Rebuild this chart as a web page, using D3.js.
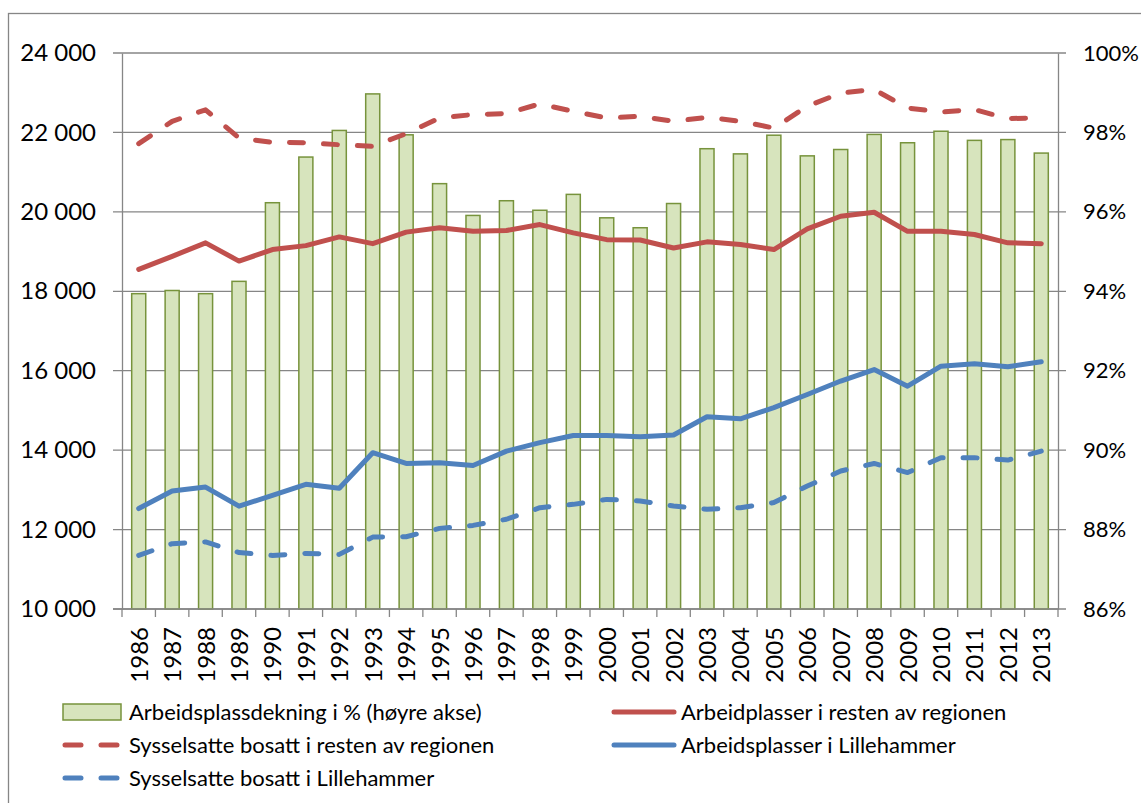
<!DOCTYPE html>
<html>
<head>
<meta charset="utf-8">
<script src="https://cdn.jsdelivr.net/npm/d3@7"></script>
<style>
  body { margin: 0; background: #fff; }
  svg text { font-family: Lato, "Open Sans", sans-serif; fill: #000; }
</style>
</head>
<body>
<div id="chart"></div>
<script>
var years = ["1986","1987","1988","1989","1990","1991","1992","1993","1994","1995","1996","1997","1998","1999",
  "2000","2001","2002","2003","2004","2005","2006","2007","2008","2009","2010","2011","2012","2013"];

// Arbeidsplassdekning i % (right axis)
var dekning = [93.94, 94.02, 93.94, 94.25, 96.23, 97.38, 98.05, 98.97, 97.94, 96.71, 95.91, 96.28, 96.04, 96.44,
  95.85, 95.60, 96.21, 97.59, 97.46, 97.93, 97.41, 97.57, 97.95, 97.74, 98.03, 97.80, 97.82, 97.48];

var arbRegion = [18550, 18880, 19220, 18760, 19050, 19150, 19370, 19200, 19490, 19600, 19510, 19530, 19680, 19470,
  19300, 19290, 19090, 19245, 19180, 19050, 19570, 19890, 19990, 19510, 19510, 19430, 19220, 19200];

var bosRegion = [21720, 22280, 22570, 21860, 21750, 21740, 21690, 21650, 21970, 22365, 22450, 22475, 22720, 22530,
  22365, 22405, 22280, 22380, 22280, 22110, 22660, 22990, 23080, 22615, 22515, 22575, 22350, 22365];

var arbLille = [12530, 12970, 13070, 12590, 12860, 13140, 13040, 13935, 13665, 13685, 13615, 13975, 14190, 14370,
  14370, 14340, 14380, 14840, 14790, 15070, 15400, 15740, 16030, 15610, 16115, 16175, 16100, 16225];

var bosLille = [11350, 11645, 11690, 11420, 11350, 11400, 11375, 11810, 11820, 12030, 12105, 12260, 12550, 12635,
  12760, 12720, 12595, 12510, 12550, 12680, 13095, 13475, 13665, 13435, 13810, 13810, 13750, 13975];

var leftTicks = [10000, 12000, 14000, 16000, 18000, 20000, 22000, 24000];
var rightTicks = [86, 88, 90, 92, 94, 96, 98, 100];

var series = [
  {name: "Arbeidplasser i resten av regionen", values: arbRegion, color: "#c0504d", dashed: false},
  {name: "Sysselsatte bosatt i resten av regionen", values: bosRegion, color: "#c0504d", dashed: true},
  {name: "Arbeidsplasser i Lillehammer", values: arbLille, color: "#4f81bd", dashed: false},
  {name: "Sysselsatte bosatt i Lillehammer", values: bosLille, color: "#4f81bd", dashed: true}
];

var W = 1141, H = 803;
var margin = {top: 53, right: 83, bottom: 194, left: 122};
var width = W - margin.left - margin.right;
var height = H - margin.top - margin.bottom;
var grid = "#868686";
var dash = "14,20";

var svg = d3.select("#chart").append("svg")
  .attr("width", W)
  .attr("height", H);

// outer frame
svg.append("rect")
  .attr("x", 8.5).attr("y", 13.5)
  .attr("width", W).attr("height", H)
  .attr("fill", "none")
  .attr("stroke", grid)
  .attr("stroke-width", 1.3);

var g = svg.append("g")
  .attr("transform", "translate(" + margin.left + "," + margin.top + ")");

var x = d3.scaleBand().domain(years).range([0, width]).paddingInner(0.58).paddingOuter(0.29);
var xEdge = d3.scaleBand().domain(years).range([0, width]);
var yLeft = d3.scaleLinear().domain([10000, 24000]).range([height, 0]);
var yRight = d3.scaleLinear().domain([86, 100]).range([height, 0]);

var fmt = function(d) { return d3.format(",")(d).replace(",", " "); };

// gridlines (with tick stubs on both sides)
g.append("g").selectAll("line")
  .data(leftTicks)
  .join("line")
  .attr("x1", -9).attr("x2", width + 8)
  .attr("y1", function(d) { return yLeft(d); })
  .attr("y2", function(d) { return yLeft(d); })
  .attr("stroke", grid)
  .attr("stroke-width", 1.3);

// left axis
var left = g.append("g")
  .call(d3.axisLeft(yLeft).tickValues(leftTicks).tickFormat(fmt).tickSize(0).tickPadding(26));
left.select(".domain").attr("stroke", grid).attr("stroke-width", 1.3);
left.selectAll("text").attr("font-size", "24px").attr("font-family", "Lato");

// right axis
var right = g.append("g")
  .attr("transform", "translate(" + width + ",0)")
  .call(d3.axisRight(yRight).tickValues(rightTicks).tickFormat(function(d) { return d + "%"; }).tickSize(0).tickPadding(25));
right.select(".domain").attr("stroke", grid).attr("stroke-width", 1.3);
right.selectAll("text").attr("font-size", "22px").attr("font-family", "Lato");

// bars
g.append("g").selectAll("rect")
  .data(dekning)
  .join("rect")
  .attr("x", function(d, i) { return x(years[i]); })
  .attr("width", x.bandwidth())
  .attr("y", function(d) { return yRight(d); })
  .attr("height", function(d) { return height - yRight(d); })
  .attr("fill", "#d7e4bd")
  .attr("stroke", "#77933c")
  .attr("stroke-width", 1.5);

// bottom axis
var bottom = g.append("g")
  .attr("transform", "translate(0," + height + ")");
bottom.append("line")
  .attr("x1", -9).attr("x2", width)
  .attr("stroke", grid).attr("stroke-width", 1.3);
bottom.selectAll(".tk")
  .data(years.concat(["end"]))
  .join("line")
  .attr("class", "tk")
  .attr("x1", function(d, i) { return i * xEdge.step(); })
  .attr("x2", function(d, i) { return i * xEdge.step(); })
  .attr("y1", 0).attr("y2", 8)
  .attr("stroke", grid).attr("stroke-width", 1.3);
bottom.selectAll("text")
  .data(years)
  .join("text")
  .attr("transform", function(d) {
    return "translate(" + (xEdge(d) + xEdge.bandwidth() / 2 + 9) + ",18) rotate(-90)";
  })
  .attr("text-anchor", "end")
  .attr("font-size", "24px")
  .text(function(d) { return d; });

// lines
var line = d3.line()
  .x(function(d, i) { return xEdge(years[i]) + xEdge.bandwidth() / 2; })
  .y(function(d) { return yLeft(d); });

g.append("g").selectAll("path")
  .data(series)
  .join("path")
  .attr("d", function(s) { return line(s.values); })
  .attr("fill", "none")
  .attr("stroke", function(s) { return s.color; })
  .attr("stroke-width", 5)
  .attr("stroke-linejoin", "round")
  .attr("stroke-linecap", "round")
  .attr("stroke-dasharray", function(s) { return s.dashed ? dash : null; });

// legend
var legend = svg.append("g").attr("font-size", "22px");
var legItems = [
  {type: "bar", name: "Arbeidsplassdekning i % (høyre akse)", col: 0, row: 0},
  {type: "line", s: series[0], col: 1, row: 0},
  {type: "line", s: series[1], col: 0, row: 1},
  {type: "line", s: series[2], col: 1, row: 1},
  {type: "line", s: series[3], col: 0, row: 2}
];
var colX = [63, 612];
var rowY = [712, 745, 778];

legItems.forEach(function(it) {
  var lx = colX[it.col], ly = rowY[it.row];
  var item = legend.append("g").attr("transform", "translate(" + lx + "," + ly + ")");
  if (it.type === "bar") {
    item.append("rect")
      .attr("x", 0).attr("y", -8).attr("width", 58).attr("height", 16)
      .attr("fill", "#d7e4bd").attr("stroke", "#77933c").attr("stroke-width", 1.5);
  } else {
    item.append("line")
      .attr("x1", 2).attr("x2", it.s.dashed ? 56 : 62)
      .attr("stroke", it.s.color)
      .attr("stroke-width", 5)
      .attr("stroke-linecap", "round")
      .attr("stroke-dasharray", it.s.dashed ? "16,20" : null);
  }
  item.append("text")
    .attr("x", it.type === "bar" ? 66 : (it.col === 1 ? 69 : 66))
    .attr("dy", "0.35em")
    .text(it.type === "bar" ? it.name : it.s.name);
});
</script>
</body>
</html>
